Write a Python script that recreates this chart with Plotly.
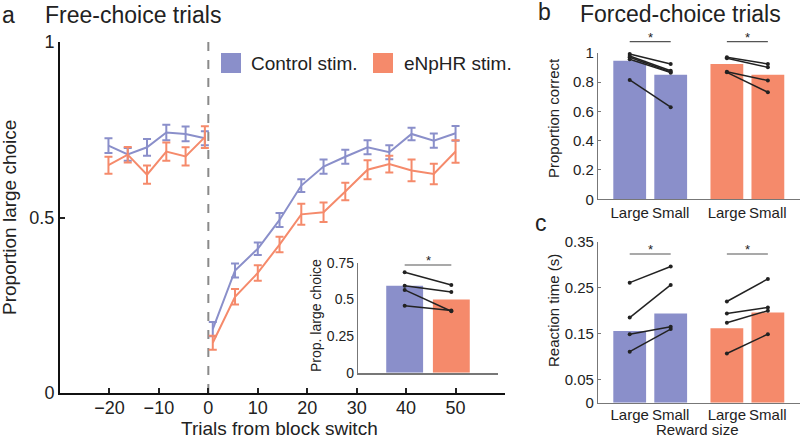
import plotly.graph_objects as go

# ---------------- data ----------------
pre_trials = [-20.2, -16.3, -12.4, -8.5, -4.6, -0.7]
post_trials = [0.9, 5.4, 10.0, 14.4, 18.8, 23.3, 27.7, 32.2, 36.6, 41.1, 45.6, 50.0]

ctrl_pre = [0.705, 0.680, 0.700, 0.742, 0.738, 0.726]
ctrl_pre_err = [0.021, 0.018, 0.024, 0.022, 0.021, 0.020]
ctrl_post = [0.182, 0.349, 0.411, 0.493, 0.591, 0.645, 0.673, 0.700, 0.686, 0.738, 0.719, 0.740]
ctrl_post_err = [0.020, 0.020, 0.018, 0.020, 0.018, 0.020, 0.020, 0.020, 0.020, 0.018, 0.020, 0.021]

enp_pre = [0.649, 0.679, 0.622, 0.688, 0.674, 0.729]
enp_pre_err = [0.024, 0.022, 0.026, 0.026, 0.026, 0.031]
enp_post = [0.143, 0.274, 0.342, 0.423, 0.509, 0.515, 0.574, 0.636, 0.652, 0.634, 0.624, 0.688]
enp_post_err = [0.020, 0.022, 0.022, 0.022, 0.030, 0.028, 0.025, 0.027, 0.024, 0.031, 0.029, 0.032]

# inset: proportion large choice
inset_means = [0.595, 0.500]
inset_pairs = [(0.687, 0.600), (0.594, 0.551), (0.566, 0.420), (0.457, 0.425)]

# forced choice
reward_sizes = ["Large", "Small"]
pc_ctrl = [0.945, 0.850]
pc_enp = [0.923, 0.850]
pc_ctrl_pairs = [(0.991, 0.923), (0.977, 0.877), (0.969, 0.868), (0.955, 0.864), (0.814, 0.628)]
pc_enp_pairs = [(0.969, 0.923), (0.962, 0.900), (0.870, 0.810), (0.866, 0.730)]

rt_ctrl = [0.156, 0.194]
rt_enp = [0.162, 0.196]
rt_ctrl_pairs = [(0.261, 0.296), (0.185, 0.256), (0.149, 0.165), (0.111, 0.160)]
rt_enp_pairs = [(0.220, 0.269), (0.194, 0.207), (0.174, 0.200), (0.107, 0.149)]

# ---------------- style ----------------
BLUE = "#8A8FCA"
RED = "#F58A6B"
FONT = "Liberation Sans, Arial, sans-serif"
TXT = "#222222"
W, H = 800, 438


def px(x):
    return x / W


def py(y):
    return 1 - y / H


fig = go.Figure()


def seg(pre, post):
    return pre + [None] + post


xs = seg(pre_trials, post_trials)
fig.add_trace(go.Scatter(
    x=xs, y=seg(ctrl_pre, ctrl_post), mode="lines", line=dict(color=BLUE, width=2),
    error_y=dict(type="data", array=seg(ctrl_pre_err, ctrl_post_err), color=BLUE, thickness=2, width=4),
    xaxis="x", yaxis="y", showlegend=False, connectgaps=False))
fig.add_trace(go.Scatter(
    x=xs, y=seg(enp_pre, enp_post), mode="lines", line=dict(color=RED, width=2),
    error_y=dict(type="data", array=seg(enp_pre_err, enp_post_err), color=RED, thickness=2, width=4),
    xaxis="x", yaxis="y", showlegend=False, connectgaps=False))

# ---- inset ----
inset_pos = [1, 2]
fig.add_trace(go.Bar(x=inset_pos, y=inset_means, marker=dict(color=[BLUE, RED], line=dict(width=0)),
                     width=0.79, xaxis="x2", yaxis="y2", showlegend=False))
for a, b in inset_pairs:
    fig.add_trace(go.Scatter(x=inset_pos, y=[a, b], mode="lines+markers",
                             line=dict(color="#222", width=1.5), marker=dict(color="#222", size=4),
                             xaxis="x2", yaxis="y2", showlegend=False))

# ---- panels b and c ----
bpos = [1, 2, 3.37, 4.37]
bcolors = [BLUE, BLUE, RED, RED]


def add_bar_panel(means_c, means_e, pairs_c, pairs_e, xa, ya):
    fig.add_trace(go.Bar(x=bpos, y=means_c + means_e, marker=dict(color=bcolors, line=dict(width=0)),
                         width=0.8, xaxis=xa, yaxis=ya, showlegend=False))
    for pairs, xx in ((pairs_c, bpos[0:2]), (pairs_e, bpos[2:4])):
        for a, b in pairs:
            fig.add_trace(go.Scatter(x=xx, y=[a, b], mode="lines+markers",
                                     line=dict(color="#222", width=1.5), marker=dict(color="#222", size=4),
                                     xaxis=xa, yaxis=ya, showlegend=False, cliponaxis=False))


add_bar_panel(pc_ctrl, pc_enp, pc_ctrl_pairs, pc_enp_pairs, "x3", "y3")
add_bar_panel(rt_ctrl, rt_enp, rt_ctrl_pairs, rt_enp_pairs, "x4", "y4")

tickfont_main = dict(family=FONT, size=18, color=TXT)
tickfont_small = dict(family=FONT, size=15, color=TXT)

bx_range = [1 - 31.7 / 41, 1 - 31.7 / 41 + 202 / 41]

common = dict(showgrid=False, zeroline=False, automargin=False)

fig.update_layout(
    width=W, height=H, margin=dict(l=0, r=0, t=0, b=0, autoexpand=False),
    paper_bgcolor="white", plot_bgcolor="rgba(0,0,0,0)",
    font=dict(family=FONT, color=TXT),
    xaxis=dict(domain=[px(60), px(505)], range=[-30, 60], tickvals=[-20, -10, 0, 10, 20, 30, 40, 50],
               ticks="inside", ticklen=5, tickwidth=1.5, tickcolor="#222", showline=True, linecolor="#111",
               linewidth=2, tickfont=tickfont_main, ticklabelstandoff=-3, anchor="y", **common),
    yaxis=dict(domain=[py(393), py(42)], range=[0, 1], tickvals=[0, 0.5, 1], ticktext=["0", "0.5", "1"],
               ticks="inside", ticklen=5, tickwidth=1.5, tickcolor="#222", showline=True, linecolor="#111",
               linewidth=2, tickfont=tickfont_main, anchor="x", **common),
    xaxis2=dict(domain=[px(358), px(498)], range=[0, 3], showticklabels=False, ticks="",
                showline=True, linecolor="#777", linewidth=1.5, anchor="y2", **common),
    yaxis2=dict(domain=[py(372.7), py(263)], range=[0, 0.75], tickvals=[0, 0.25, 0.5, 0.75],
                ticktext=["0", "0.25", "0.5", "0.75"], ticks="", showline=True, linecolor="#777", linewidth=1.2,
                tickfont=dict(family=FONT, size=14, color=TXT), anchor="x2", **common),
    xaxis3=dict(domain=[px(598), 1.0], range=bx_range, tickvals=bpos, ticktext=reward_sizes * 2,
                ticks="", showline=True, linecolor="#777", linewidth=1.2,
                tickfont=tickfont_small, anchor="y3", **common),
    yaxis3=dict(domain=[py(199.3), py(52.7)], range=[0, 1], tickvals=[0, 0.2, 0.4, 0.6, 0.8, 1],
                ticktext=["0", "0.2", "0.4", "0.6", "0.8", "1"], ticks="inside", ticklen=3, tickcolor="#777",
                showline=True, linecolor="#777", linewidth=1.2,
                tickfont=tickfont_small, anchor="x3", **common),
    xaxis4=dict(domain=[px(598), 1.0], range=bx_range, tickvals=bpos, ticktext=reward_sizes * 2,
                ticks="", showline=True, linecolor="#777", linewidth=1.2,
                tickfont=tickfont_small, ticklabelstandoff=-2, anchor="y4", **common),
    yaxis4=dict(domain=[py(402.7), py(241.7)], range=[0, 0.35], tickvals=[0, 0.05, 0.15, 0.25, 0.35],
                ticktext=["0", "0.05", "0.15", "0.25", "0.35"], ticks="inside", ticklen=3, tickcolor="#777",
                showline=True, linecolor="#777", linewidth=1.2,
                tickfont=tickfont_small, anchor="x4", **common),
)

shapes = []
# dashed switch line
shapes.append(dict(type="line", xref="x", yref="y", x0=0, x1=0, y0=0, y1=1,
                   line=dict(color="#8a8a8a", width=2, dash="dash"), layer="below"))
# legend squares
shapes.append(dict(type="rect", xref="paper", yref="paper", x0=px(221), x1=px(241), y0=py(73), y1=py(53),
                   fillcolor=BLUE, line=dict(width=0)))
shapes.append(dict(type="rect", xref="paper", yref="paper", x0=px(373), x1=px(393), y0=py(73), y1=py(53),
                   fillcolor=RED, line=dict(width=0)))

# significance bars (x in data units, y in paper units)
sig = [("x2", [1, 2], 265),
       ("x3", bpos[0:2], 41.7), ("x3", bpos[2:4], 41.7),
       ("x4", bpos[0:2], 254), ("x4", bpos[2:4], 254)]
annotations = []
for xa, xx, ypix in sig:
    shapes.append(dict(type="line", xref=xa, yref="paper", x0=xx[0], x1=xx[1], y0=py(ypix), y1=py(ypix),
                       line=dict(color="#555", width=1.2)))
    annotations.append(dict(text="*", x=(xx[0] + xx[1]) / 2, y=py(ypix), xref=xa, yref="paper",
                            showarrow=False, yanchor="bottom", yshift=-5,
                            font=dict(family=FONT, size=13, color=TXT)))


def note(text, x, y, size, xanchor="left", yanchor="middle", angle=0):
    annotations.append(dict(text=text, x=px(x), y=py(y), xref="paper", yref="paper", showarrow=False,
                            xanchor=xanchor, yanchor=yanchor, textangle=angle,
                            font=dict(family=FONT, size=size, color=TXT)))


note("a", 0, 0, 23, yanchor="top")
note("Free-choice trials", 43, 0, 23, yanchor="top")
note("b", 536, 12, 23)
note("Forced-choice trials", 578, 14, 23)
note("c", 533, 223, 23)
note("Control stim.", 249, 63, 19)
note("eNpHR stim.", 402, 63, 19)

# axis titles
note("Proportion large choice", 10, 218, 19, xanchor="center", angle=-90)
note("Trials from block switch", 279, 428, 19, xanchor="center")
note("Prop. large choice", 316, 316, 14, xanchor="center", angle=-90)
note("Proportion correct", 553, 118, 15, xanchor="center", angle=-90)
note("Reaction time (s)", 553, 311, 15, xanchor="center", angle=-90)
note("Reward size", 697, 429, 15, xanchor="center")

fig.update_layout(shapes=shapes, annotations=annotations)

fig.write_html("out.html", config={"displayModeBar": False},
               post_script="document.body.style.margin='0';document.body.style.padding='0';")
